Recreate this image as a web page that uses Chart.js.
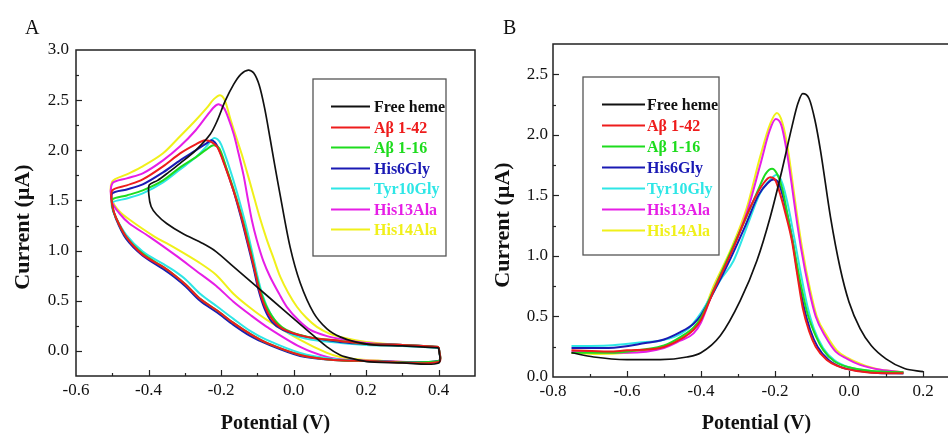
<!DOCTYPE html>
<html>
<head>
<meta charset="utf-8">
<script src="https://cdn.jsdelivr.net/npm/chart.js@4"></script>
<style>
html,body{margin:0;padding:0;background:#fff;overflow:hidden;width:948px;height:436px}
#wrapA{position:absolute;left:0;top:0}
#wrapB{position:absolute;left:480px;top:0}
</style>
</head>
<body>
<div id="wrapA"><canvas id="cvA" width="480" height="436"></canvas></div>
<div id="wrapB"><canvas id="cvB" width="480" height="436"></canvas></div>
<script>
// --- series labels / colours (same order in both panels) ---
const seriesNames = ['Free heme', 'Aβ 1-42', 'Aβ 1-16', 'His6Gly', 'Tyr10Gly', 'His13Ala', 'His14Ala'];
const seriesColors = ['#111111', '#ee1c1c', '#1edc1e', '#1a1ab4', '#2ee6e6', '#e61ee6', '#f0f01a'];

// --- Panel A: cyclic voltammograms, [potential V, current uA] around each loop ---
const cvHeme = [[0.40,0.03],[0.30,0.05],[0.22,0.06],[0.17,0.09],[0.128,0.14],[0.092,0.22],[0.055,0.38],[0.018,0.68],[-0.01,1.04],[-0.037,1.55],[-0.052,1.85],[-0.065,2.12],[-0.08,2.42],[-0.095,2.65],[-0.11,2.77],[-0.125,2.80],[-0.145,2.76],[-0.165,2.66],[-0.189,2.49],[-0.21,2.30],[-0.23,2.16],[-0.27,2.00],[-0.313,1.87],[-0.345,1.78],[-0.375,1.70],[-0.398,1.655],
  [-0.399,1.55],[-0.393,1.44],[-0.378,1.36],[-0.35,1.27],[-0.306,1.17],[-0.25,1.07],[-0.214,0.99],[-0.166,0.84],[-0.102,0.64],[-0.028,0.41],[0.036,0.21],[0.092,0.04],[0.128,-0.04],[0.165,-0.08],[0.21,-0.11],[0.30,-0.12],[0.40,-0.12],[0.40,0.03]];
const cvAb42 = [[0.40,0.04],[0.30,0.06],[0.20,0.07],[0.128,0.10],[0.036,0.14],[-0.03,0.22],[-0.06,0.32],[-0.08,0.45],[-0.097,0.64],[-0.11,0.85],[-0.129,1.12],[-0.145,1.35],[-0.166,1.60],[-0.19,1.85],[-0.21,2.03],[-0.225,2.08],[-0.244,2.10],[-0.27,2.06],[-0.313,1.97],[-0.36,1.84],[-0.416,1.71],[-0.46,1.65],[-0.50,1.60],
  [-0.50,1.45],[-0.49,1.33],[-0.462,1.14],[-0.416,0.96],[-0.361,0.84],[-0.33,0.76],[-0.297,0.66],[-0.258,0.52],[-0.21,0.40],[-0.166,0.28],[-0.12,0.17],[-0.074,0.08],[0.018,-0.04],[0.11,-0.09],[0.20,-0.10],[0.40,-0.11],[0.40,0.04]];
const cvAb16 = [[0.40,0.04],[0.30,0.06],[0.20,0.07],[0.128,0.10],[0.04,0.14],[-0.02,0.21],[-0.05,0.30],[-0.072,0.42],[-0.09,0.58],[-0.105,0.78],[-0.122,1.05],[-0.14,1.30],[-0.16,1.55],[-0.185,1.82],[-0.205,2.02],[-0.221,2.05],[-0.24,2.01],[-0.27,1.93],[-0.313,1.83],[-0.36,1.70],[-0.416,1.60],[-0.46,1.55],[-0.50,1.51],
  [-0.50,1.44],[-0.49,1.33],[-0.462,1.14],[-0.416,0.97],[-0.361,0.84],[-0.33,0.76],[-0.297,0.66],[-0.258,0.52],[-0.21,0.40],[-0.166,0.28],[-0.12,0.17],[-0.074,0.08],[0.018,-0.04],[0.11,-0.09],[0.20,-0.10],[0.40,-0.10],[0.40,0.04]];
const cvHis6 = [[0.40,0.04],[0.30,0.06],[0.20,0.07],[0.128,0.09],[0.036,0.14],[-0.03,0.21],[-0.06,0.29],[-0.08,0.42],[-0.097,0.61],[-0.11,0.82],[-0.129,1.10],[-0.145,1.33],[-0.166,1.60],[-0.19,1.86],[-0.21,2.04],[-0.226,2.10],[-0.24,2.07],[-0.27,2.00],[-0.313,1.90],[-0.36,1.78],[-0.416,1.66],[-0.46,1.61],[-0.50,1.57],
  [-0.50,1.45],[-0.49,1.32],[-0.462,1.12],[-0.416,0.95],[-0.361,0.82],[-0.33,0.74],[-0.297,0.64],[-0.258,0.50],[-0.21,0.38],[-0.166,0.26],[-0.12,0.15],[-0.074,0.07],[0.018,-0.05],[0.11,-0.09],[0.20,-0.10],[0.40,-0.10],[0.40,0.04]];
const cvTyr10 = [[0.40,0.03],[0.30,0.05],[0.20,0.06],[0.13,0.08],[0.05,0.11],[-0.01,0.17],[-0.04,0.25],[-0.065,0.38],[-0.085,0.55],[-0.10,0.75],[-0.117,1.03],[-0.135,1.30],[-0.156,1.58],[-0.18,1.86],[-0.20,2.06],[-0.21,2.11],[-0.221,2.12],[-0.24,2.04],[-0.27,1.93],[-0.313,1.81],[-0.36,1.68],[-0.416,1.57],[-0.46,1.52],[-0.50,1.48],
  [-0.50,1.42],[-0.49,1.33],[-0.462,1.16],[-0.416,0.99],[-0.361,0.87],[-0.33,0.80],[-0.297,0.71],[-0.258,0.57],[-0.21,0.44],[-0.166,0.32],[-0.12,0.20],[-0.074,0.11],[0.018,-0.02],[0.11,-0.08],[0.20,-0.10],[0.40,-0.10],[0.40,0.03]];
const cvHis13 = [[0.40,0.04],[0.30,0.06],[0.20,0.08],[0.128,0.12],[0.09,0.15],[0.046,0.21],[0.015,0.30],[-0.019,0.44],[-0.04,0.57],[-0.065,0.74],[-0.084,0.90],[-0.102,1.11],[-0.115,1.30],[-0.127,1.53],[-0.138,1.75],[-0.152,1.97],[-0.165,2.16],[-0.18,2.32],[-0.192,2.42],[-0.207,2.46],[-0.22,2.43],[-0.24,2.34],[-0.27,2.20],[-0.313,2.04],[-0.36,1.90],[-0.416,1.77],[-0.46,1.72],[-0.50,1.67],
  [-0.50,1.48],[-0.48,1.37],[-0.453,1.27],[-0.398,1.14],[-0.324,0.95],[-0.269,0.80],[-0.214,0.65],[-0.166,0.49],[-0.12,0.36],[-0.074,0.24],[0.018,0.04],[0.092,-0.06],[0.15,-0.09],[0.25,-0.10],[0.40,-0.10],[0.40,0.04]];
const cvHis14 = [[0.40,0.04],[0.30,0.06],[0.20,0.09],[0.128,0.14],[0.10,0.17],[0.064,0.24],[0.035,0.33],[0.009,0.44],[-0.015,0.58],[-0.037,0.74],[-0.055,0.92],[-0.074,1.11],[-0.095,1.35],[-0.115,1.61],[-0.13,1.80],[-0.143,1.96],[-0.16,2.15],[-0.175,2.32],[-0.19,2.50],[-0.203,2.55],[-0.22,2.51],[-0.24,2.42],[-0.27,2.30],[-0.313,2.14],[-0.36,1.97],[-0.416,1.84],[-0.46,1.76],[-0.50,1.69],
  [-0.50,1.50],[-0.48,1.39],[-0.453,1.31],[-0.388,1.15],[-0.324,1.02],[-0.26,0.88],[-0.214,0.76],[-0.166,0.57],[-0.12,0.43],[-0.074,0.31],[0.018,0.11],[0.092,-0.02],[0.128,-0.06],[0.20,-0.09],[0.40,-0.10],[0.40,0.04]];

// --- Panel B: peak voltammograms ---
const swHeme = [[-0.75,0.20],[-0.69,0.165],[-0.60,0.144],[-0.51,0.144],[-0.438,0.165],[-0.40,0.20],[-0.348,0.34],[-0.294,0.63],[-0.249,0.96],[-0.213,1.32],[-0.181,1.71],[-0.154,2.07],[-0.138,2.26],[-0.125,2.34],[-0.108,2.30],[-0.092,2.12],[-0.077,1.87],[-0.05,1.32],[-0.024,0.90],[0.0,0.62],[0.03,0.40],[0.06,0.26],[0.10,0.15],[0.15,0.07],[0.20,0.045]];
const swAb42 = [[-0.75,0.22],[-0.65,0.21],[-0.60,0.22],[-0.51,0.24],[-0.456,0.31],[-0.42,0.39],[-0.40,0.47],[-0.366,0.71],[-0.312,1.07],[-0.267,1.40],[-0.231,1.60],[-0.213,1.65],[-0.20,1.63],[-0.185,1.50],[-0.17,1.33],[-0.154,1.12],[-0.14,0.85],[-0.125,0.57],[-0.108,0.38],[-0.09,0.25],[-0.06,0.14],[-0.03,0.09],[0.02,0.05],[0.10,0.03],[0.147,0.03]];
const swAb16 = [[-0.75,0.20],[-0.65,0.20],[-0.55,0.23],[-0.50,0.26],[-0.456,0.33],[-0.42,0.41],[-0.40,0.49],[-0.366,0.72],[-0.32,1.03],[-0.276,1.33],[-0.245,1.55],[-0.225,1.68],[-0.208,1.72],[-0.195,1.68],[-0.18,1.55],[-0.165,1.32],[-0.148,1.05],[-0.13,0.76],[-0.112,0.52],[-0.09,0.34],[-0.069,0.22],[-0.04,0.13],[0.0,0.08],[0.06,0.05],[0.147,0.04]];
const swHis6 = [[-0.75,0.24],[-0.65,0.24],[-0.55,0.28],[-0.50,0.31],[-0.456,0.37],[-0.42,0.44],[-0.40,0.51],[-0.366,0.70],[-0.32,0.98],[-0.28,1.25],[-0.245,1.50],[-0.22,1.60],[-0.204,1.63],[-0.19,1.60],[-0.175,1.45],[-0.154,1.15],[-0.14,0.88],[-0.122,0.58],[-0.105,0.39],[-0.085,0.25],[-0.055,0.14],[-0.02,0.08],[0.03,0.05],[0.10,0.03],[0.147,0.03]];
const swTyr10 = [[-0.75,0.255],[-0.65,0.26],[-0.55,0.29],[-0.51,0.30],[-0.438,0.39],[-0.40,0.53],[-0.348,0.80],[-0.312,0.96],[-0.276,1.24],[-0.24,1.52],[-0.21,1.64],[-0.195,1.67],[-0.18,1.60],[-0.165,1.42],[-0.148,1.15],[-0.13,0.85],[-0.112,0.58],[-0.095,0.40],[-0.07,0.24],[-0.04,0.14],[0.0,0.08],[0.06,0.05],[0.147,0.03]];
const swHis13 = [[-0.75,0.21],[-0.60,0.20],[-0.50,0.24],[-0.456,0.30],[-0.42,0.36],[-0.40,0.45],[-0.366,0.72],[-0.32,1.02],[-0.276,1.36],[-0.24,1.75],[-0.215,2.03],[-0.198,2.13],[-0.183,2.08],[-0.168,1.86],[-0.153,1.55],[-0.143,1.33],[-0.13,1.07],[-0.108,0.72],[-0.09,0.50],[-0.063,0.33],[-0.036,0.21],[-0.005,0.15],[0.03,0.10],[0.085,0.06],[0.147,0.04]];
const swHis14 = [[-0.75,0.20],[-0.68,0.19],[-0.60,0.20],[-0.55,0.22],[-0.50,0.25],[-0.456,0.32],[-0.42,0.40],[-0.40,0.49],[-0.366,0.75],[-0.32,1.05],[-0.276,1.40],[-0.24,1.82],[-0.213,2.09],[-0.195,2.18],[-0.18,2.10],[-0.165,1.88],[-0.15,1.55],[-0.14,1.33],[-0.127,1.07],[-0.105,0.72],[-0.087,0.50],[-0.06,0.34],[-0.033,0.22],[-0.005,0.16],[0.03,0.11],[0.058,0.08],[0.085,0.06],[0.147,0.04]];

// --- tick labels ---
const xTicksA = [-0.6, -0.4, -0.2, 0, 0.2, 0.4];
const yTicksA = [0, 0.5, 1, 1.5, 2, 2.5, 3];
const xTicksB = [-0.8, -0.6, -0.4, -0.2, 0, 0.2];
const yTicksB = [0, 0.5, 1, 1.5, 2, 2.5];

const FONT = 'Liberation Serif, Times New Roman, serif';

// --- frame, inward ticks, panel letter, y title, legend ---
const panelDecor = {
  id: 'panelDecor',
  afterDraw(chart, args, o) {
    const ctx = chart.ctx, a = chart.chartArea;
    const xs = chart.scales.x, ys = chart.scales.y;
    ctx.save();
    ctx.strokeStyle = '#222';
    ctx.lineWidth = 1.5;
    ctx.strokeRect(a.left, a.top, a.right - a.left, a.bottom - a.top);

    ctx.lineWidth = 1.2;
    const isMajor = (list, v) => list.some(t => Math.abs(t - v) < 1e-6);
    let n = Math.round((xs.max - xs.min) / o.xMinor);
    for (let i = 1; i < n; i++) {
      const v = xs.min + i * o.xMinor;
      const px = Math.round(xs.getPixelForValue(v)) + 0.5;
      const len = isMajor(o.xTicks, v) ? 6 : 3;
      ctx.beginPath(); ctx.moveTo(px, a.bottom); ctx.lineTo(px, a.bottom - len); ctx.stroke();
    }
    n = Math.round((ys.max - ys.min) / o.yMinor);
    for (let i = 1; i < n; i++) {
      const v = ys.min + i * o.yMinor;
      const py = Math.round(ys.getPixelForValue(v)) + 0.5;
      const len = isMajor(o.yTicks, v) ? 6 : 3;
      ctx.beginPath(); ctx.moveTo(a.left, py); ctx.lineTo(a.left + len, py); ctx.stroke();
    }

    // panel letter
    ctx.fillStyle = '#111';
    ctx.font = '20px ' + FONT;
    ctx.textAlign = 'left';
    ctx.textBaseline = 'alphabetic';
    ctx.fillText(o.letter, o.letterX, o.letterY);

    // y title
    ctx.save();
    ctx.translate(o.yTitleX, o.yTitleY);
    ctx.rotate(-Math.PI / 2);
    ctx.font = 'bold 22px ' + FONT;
    ctx.textAlign = 'center';
    ctx.textBaseline = 'middle';
    ctx.fillText('Current (µA)', 0, 0);
    ctx.restore();

    // legend
    const L = o.legend;
    ctx.strokeStyle = '#555';
    ctx.lineWidth = 1.3;
    ctx.strokeRect(L.x1, L.y1, L.x2 - L.x1, L.y2 - L.y1);
    ctx.font = 'bold 16px ' + FONT;
    ctx.textBaseline = 'middle';
    chart.data.datasets.forEach((ds, i) => {
      const y = Math.round(L.rowY + i * L.rowStep) + 0.5;
      ctx.strokeStyle = ds.borderColor;
      ctx.lineWidth = 2;
      ctx.beginPath(); ctx.moveTo(L.lineX1, y); ctx.lineTo(L.lineX2, y); ctx.stroke();
      ctx.fillStyle = ds.borderColor;
      ctx.fillText(ds.label, L.textX, y + 1);
    });
    ctx.restore();
  }
};

function toPts(arr) {
  return arr.map(p => ({x: p[0], y: p[1]}));
}

function makePanel(id, series, cfg) {
  const datasets = series.map((s, i) => ({
    label: seriesNames[i],
    data: toPts(s),
    borderColor: seriesColors[i],
    borderWidth: i === 0 ? 1.7 : 2,
    showLine: true,
    pointRadius: 0,
    tension: 0.3,
    cubicInterpolationMode: cfg.monotone ? 'monotone' : 'default',
    fill: false
  }));
  const tickFont = {family: FONT, size: 17};
  return new Chart(document.getElementById(id), {
    type: 'scatter',
    data: {datasets},
    options: {
      responsive: false,
      animation: false,
      events: [],
      layout: {padding: cfg.padding},
      plugins: {legend: {display: false}, tooltip: {enabled: false}, panelDecor: cfg.decor},
      scales: {
        x: {
          type: 'linear', min: cfg.xMin, max: cfg.xMax,
          afterBuildTicks: s => { s.ticks = cfg.decor.xTicks.map(v => ({value: v})); },
          afterFit: s => { s.height = cfg.xHeight; },
          grid: {display: false, drawTicks: false},
          border: {display: false},
          ticks: {padding: 4, font: tickFont, color: '#111', maxRotation: 0, autoSkip: false,
                  callback: v => v.toFixed(1)},
          title: {display: true, text: 'Potential (V)', color: '#111',
                  font: {family: FONT, size: 20, weight: 'bold'}, padding: {top: 0, bottom: 0}}
        },
        y: {
          type: 'linear', min: cfg.yMin, max: cfg.yMax,
          afterBuildTicks: s => { s.ticks = cfg.decor.yTicks.map(v => ({value: v})); },
          afterFit: s => { s.width = cfg.yWidth; },
          grid: {display: false, drawTicks: false},
          border: {display: false},
          ticks: {padding: cfg.yPad, font: tickFont, color: '#111', autoSkip: false,
                  callback: v => v.toFixed(1)}
        }
      }
    },
    plugins: [panelDecor]
  });
}

makePanel('cvA', [cvHeme, cvAb42, cvAb16, cvHis6, cvTyr10, cvHis13, cvHis14], {
  padding: {top: 50, right: 5, bottom: 0, left: 0},
  xMin: -0.6, xMax: 0.5, yMin: -0.25, yMax: 3.0,
  xHeight: 60, yWidth: 76, yPad: 7, monotone: false,
  decor: {
    xTicks: xTicksA, yTicks: yTicksA, xMinor: 0.1, yMinor: 0.25,
    letter: 'A', letterX: 25, letterY: 34, yTitleX: 23, yTitleY: 227,
    legend: {x1: 313, y1: 79, x2: 446, y2: 256, lineX1: 331, lineX2: 370, textX: 374, rowY: 106, rowStep: 20.5}
  }
});

makePanel('cvB', [swHeme, swAb42, swAb16, swHis6, swTyr10, swHis13, swHis14], {
  padding: {top: 44, right: 0, bottom: 0, left: 0},
  xMin: -0.8, xMax: 0.3, yMin: 0, yMax: 2.75,
  xHeight: 59, yWidth: 73, yPad: 5, monotone: true,
  decor: {
    xTicks: xTicksB, yTicks: yTicksB, xMinor: 0.1, yMinor: 0.25,
    letter: 'B', letterX: 23, letterY: 34, yTitleX: 23, yTitleY: 225,
    legend: {x1: 103, y1: 77, x2: 239, y2: 255, lineX1: 122, lineX2: 165, textX: 167, rowY: 104, rowStep: 21}
  }
});
</script>
</body>
</html>
